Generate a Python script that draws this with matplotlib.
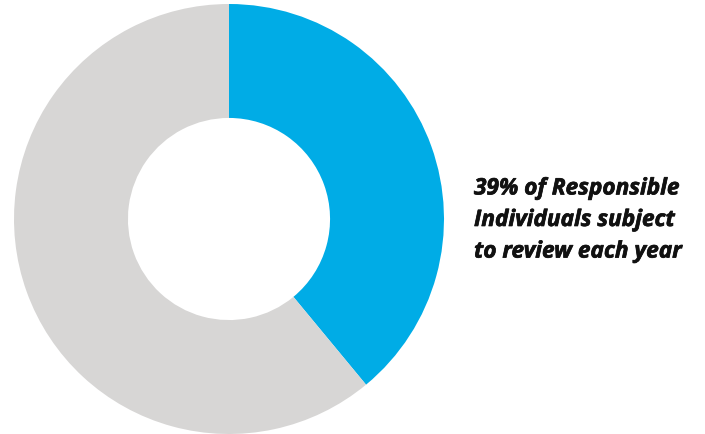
import matplotlib.pyplot as plt
import matplotlib.patheffects as pe

labels = ["Subject to review", "Other"]
shares = [39, 61]
colors = ["#00ACE6", "#D7D6D5"]
caption = "39% of Responsible\nIndividuals subject\nto review each year"

W, H = 705, 434
fig = plt.figure(figsize=(W / 100, H / 100), dpi=100)

# donut: centre ~ (229, 219) px, outer radius ~215 px
cx, cy, r = 229, 219, 215
ax = fig.add_axes([(cx - r) / W, (H - cy - r) / H, 2 * r / W, 2 * r / H])
ax.pie(shares, colors=colors, startangle=90, counterclock=False,
       radius=1, wedgeprops=dict(width=0.53, linewidth=0))
ax.set_xlim(-1, 1)
ax.set_ylim(-1, 1)
ax.set_aspect("equal")
ax.axis("off")

# Open Sans bold renders a bit light here, thicken with a thin stroke
fig.text(474 / W, 1 - 220 / H, caption, ha="left", va="center",
         family=["Open Sans", "DejaVu Sans"], fontweight="bold",
         fontstretch="normal", fontstyle="italic", fontsize=16.3,
         linespacing=1.42, color="#111111",
         path_effects=[pe.withStroke(linewidth=0.5, foreground="#111111")])

fig.savefig("out.png", dpi=100)
